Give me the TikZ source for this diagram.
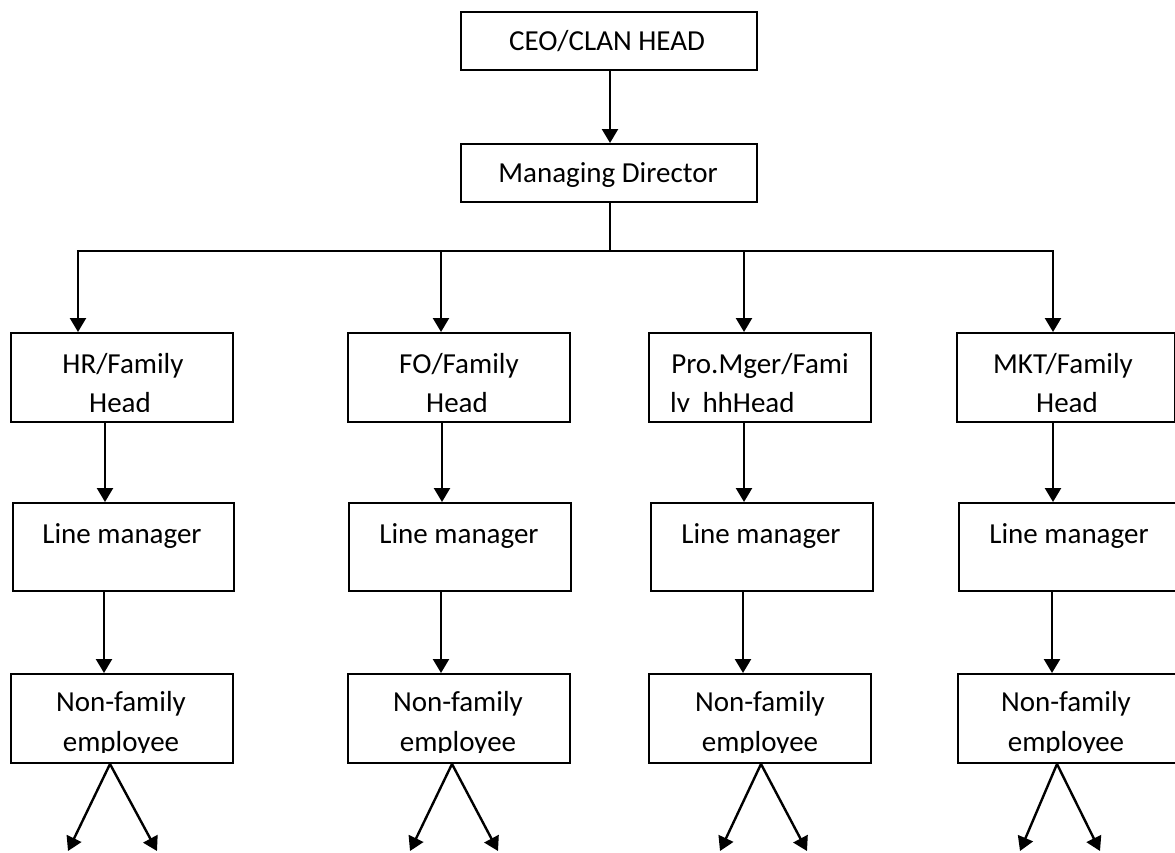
\documentclass[tikz,border=0pt]{standalone}
\usepackage{fontspec}
\setmainfont{Carlito}
\usetikzlibrary{arrows.meta,calc}

\tikzset{
  orgbox/.style={draw, line width=2pt, inner sep=0pt, anchor=north west},
  txt/.style={anchor=base, inner sep=0pt, font=\fontsize{29}{35}\selectfont},
  lefttxt/.style={txt, anchor=base west},
  link/.style={line width=2.4pt},
  arr/.style={line width=2.4pt, -{Triangle[length=14pt,width=16pt]}},
}

% box with a fixed frame: name, left, top, width, height
\newcommand{\orgnode}[5]{%
  \node[orgbox, minimum width=#4pt, minimum height=#5pt] (#1) at (#2,#3) {};}

% text line cut off at the inner bottom margin of a box: box, name, x, baseline, text
\newcommand{\cutline}[5]{%
  \begin{scope}
    \path[clip] (#1.north west) rectangle ([yshift=12pt]#1.south east);
    \node[txt] (#2) at (#3,#4) {#5};
  \end{scope}}

\begin{document}
\begin{tikzpicture}[x=1pt, y=-1pt]
\useasboundingbox (0,0) rectangle (1175,852);

% top of the chart
\orgnode{ceo}{460}{11}{296}{58}
\orgnode{md}{460}{143}{296}{58}
\node[txt] (ceot) at (607,50.5) {CEO/CLAN HEAD};
\node[txt] (mdt) at (608,182) {Managing Director};

% department heads
\orgnode{hr}{10}{332}{222}{89}
\orgnode{fo}{347}{332}{222}{89}
\orgnode{pm}{648}{332}{222}{89}
\orgnode{mk}{956}{332}{218}{89}

% line managers
\orgnode{hrlm}{12}{502}{221}{88}
\orgnode{folm}{348}{502}{222}{88}
\orgnode{pmlm}{650}{502}{222}{88}
\orgnode{mklm}{958}{502}{218}{88}

% non-family employees
\orgnode{hrnf}{10}{673}{222}{89}
\orgnode{fonf}{347}{673}{222}{89}
\orgnode{pmnf}{648}{673}{222}{89}
\orgnode{mknf}{957}{673}{218}{89}

% head boxes
\node[txt] (hrt1) at (123,373.5) {HR/Family};
\node[txt] (fot1) at (459,373.5) {FO/Family};
\node[txt] (pmt1) at (760,373.5) {Pro.Mger/Fami};
\node[txt] (mkt1) at (1063,373.5) {MKT/Family};
\cutline{hr}{hrt2}{120}{412}{Head}
\cutline{fo}{fot2}{457}{412}{Head}
\begin{scope}
  \path[clip] (pm.north west) rectangle ([yshift=12pt]pm.south east);
  \node[lefttxt] (pmt2) at (670,412) {ly\hspace{6pt} hhHead};
\end{scope}
\cutline{mk}{mkt2}{1067}{412}{Head}

% line manager labels
\node[txt] (hrlmt) at (122,543.5) {Line manager};
\node[txt] (folmt) at (459,543.5) {Line manager};
\node[txt] (pmlmt) at (761,543.5) {Line manager};
\node[txt] (mklmt) at (1069,543.5) {Line manager};

% non-family labels
\node[txt] (hrnf1) at (121,711.5) {Non-family};
\node[txt] (fonf1) at (458,711.5) {Non-family};
\node[txt] (pmnf1) at (760,711.5) {Non-family};
\node[txt] (mknf1) at (1066,711.5) {Non-family};
\cutline{hrnf}{hrnf2}{121}{751.5}{employee}
\cutline{fonf}{fonf2}{458}{751.5}{employee}
\cutline{pmnf}{pmnf2}{760}{751.5}{employee}
\cutline{mknf}{mknf2}{1066}{751.5}{employee}

% drop positions
\coordinate (mdx) at (610,0);
\coordinate (busL) at (78,251);
\coordinate (busR) at (1053,251);
\coordinate (fox) at (441,251);
\coordinate (pmx) at (744,251);

\coordinate (hrx) at (105,0);
\coordinate (fox2) at (442,0);
\coordinate (pmx2) at (744,0);
\coordinate (mkx2) at (1053,0);

\coordinate (hry) at (104,0);
\coordinate (foy) at (441,0);
\coordinate (pmy) at (743,0);
\coordinate (mky) at (1052,0);

% CEO to managing director
\draw[arr] (ceo.south -| mdx) -- (md.north -| mdx);

% distribution bus
\draw[link] (md.south -| mdx) -- (mdx |- busL);
\draw[link] ($(busL)+(-1.2,0)$) -- ($(busR)+(1.2,0)$);
\draw[arr] (busL) -- (hr.north -| busL);
\draw[arr] (fox) -- (fo.north -| fox);
\draw[arr] (pmx) -- (pm.north -| pmx);
\draw[arr] (busR) -- (mk.north -| busR);

% heads to line managers
\draw[arr] (hr.south -| hrx) -- (hrlm.north -| hrx);
\draw[arr] (fo.south -| fox2) -- (folm.north -| fox2);
\draw[arr] (pm.south -| pmx2) -- (pmlm.north -| pmx2);
\draw[arr] (mk.south -| mkx2) -- (mklm.north -| mkx2);

% line managers to employees
\draw[arr] (hrlm.south -| hry) -- (hrnf.north -| hry);
\draw[arr] (folm.south -| foy) -- (fonf.north -| foy);
\draw[arr] (pmlm.south -| pmy) -- (pmnf.north -| pmy);
\draw[arr] (mklm.south -| mky) -- (mknf.north -| mky);

% open-ended splits below the employees
\coordinate (hra) at (110,0);  \coordinate (hrl) at (68,851);  \coordinate (hrr) at (157,851);
\coordinate (foa) at (452,0);  \coordinate (fol) at (410,851); \coordinate (for) at (498,851);
\coordinate (pma) at (761,0);  \coordinate (pml) at (720,851); \coordinate (pmr) at (807,851);
\coordinate (mka) at (1057,0); \coordinate (mkl) at (1020,851);\coordinate (mkr) at (1100,851);

\draw[arr] (hrnf.south -| hra) -- (hrl);
\draw[arr] (hrnf.south -| hra) -- (hrr);
\draw[arr] (fonf.south -| foa) -- (fol);
\draw[arr] (fonf.south -| foa) -- (for);
\draw[arr] (pmnf.south -| pma) -- (pml);
\draw[arr] (pmnf.south -| pma) -- (pmr);
\draw[arr] (mknf.south -| mka) -- (mkl);
\draw[arr] (mknf.south -| mka) -- (mkr);
\end{tikzpicture}
\end{document}
